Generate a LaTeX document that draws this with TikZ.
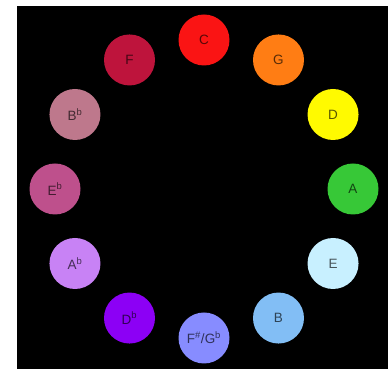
\documentclass[tikz,border=0pt]{standalone}
\usepackage{fontspec}
\setmainfont{Liberation Sans}
\usepackage{tikz}
\definecolor{cC}{RGB}{250,20,20}
\definecolor{cG}{RGB}{255,125,20}
\definecolor{cD}{RGB}{255,250,0}
\definecolor{cA}{RGB}{55,200,55}
\definecolor{cE}{RGB}{200,240,255}
\definecolor{cB}{RGB}{130,190,245}
\definecolor{cFs}{RGB}{135,140,255}
\definecolor{cDb}{RGB}{140,0,245}
\definecolor{cAb}{RGB}{200,130,245}
\definecolor{cEb}{RGB}{190,80,140}
\definecolor{cBb}{RGB}{190,120,140}
\definecolor{cF}{RGB}{190,20,60}
\tikzset{
  keydot/.style={circle,minimum size=51pt,inner sep=0pt,
    font=\fontsize{13.5}{16}\selectfont}
}

\begin{document}
\begin{tikzpicture}[x=1pt,y=1pt]
\useasboundingbox (0,0) rectangle (392,369);

% background
\fill[black] (17,0) rectangle (388,363);

% circle of fifths
\begin{scope}[shift={(204,180)}]
\foreach \n/\col/\txt [count=\i from 0] in {
  C/cC/C, G/cG/G, D/cD/D, A/cA/A, E/cE/E, B/cB/B,
  Fs/cFs/{F\textsuperscript{\#}/G\textsuperscript{b}},
  Db/cDb/{D\textsuperscript{b}}, Ab/cAb/{A\textsuperscript{b}},
  Eb/cEb/{E\textsuperscript{b}}, Bb/cBb/{B\textsuperscript{b}}, F/cF/F}{
  \node[keydot,fill=\col,text=\col!35!black] (\n) at ({90-30*\i}:149) {\txt};
}
\end{scope}

\end{tikzpicture}
\end{document}
